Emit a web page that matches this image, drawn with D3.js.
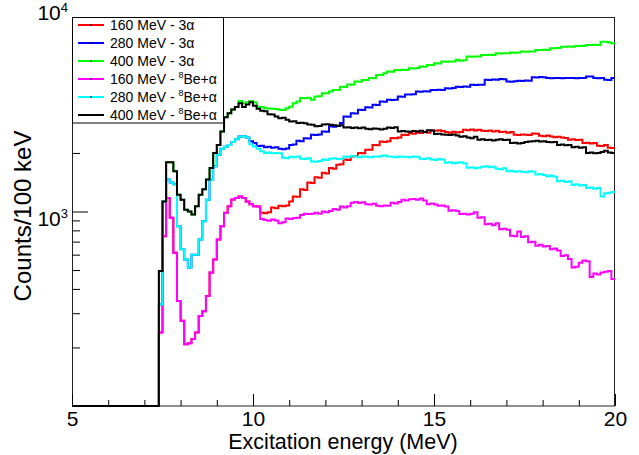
<!DOCTYPE html>
<html><head><meta charset="utf-8">
<script src="https://cdn.jsdelivr.net/npm/d3@7"></script>
<style>body{margin:0;background:#fff}svg{display:block}text{font-family:"Liberation Sans",Arial,sans-serif;fill:#000}</style>
</head><body><svg id="c" width="639" height="455"></svg>
<script>
// Histogram bins: 100 keV wide, first non-empty bin starts at 7.4 MeV (bins below are empty)
const firstEdge = 7.4;
const binWidth = 0.1;
const xTicksMajor = [5, 10, 15, 20];
const xTicksMinor = [6, 7, 8, 9, 11, 12, 13, 14, 16, 17, 18, 19];
const yTicksMajor = [1000, 10000];
const yTicksMinor = [200, 300, 400, 500, 600, 700, 800, 900, 2000, 3000, 4000, 5000, 6000, 7000, 8000, 9000];

const red160_3a = [239,746,1175,929,614,347,274,208,210,221,239,290,307,368,485,567,718,841,985,1065,1153,1175,1195,1175,1125,1090,1065,1060,
 985,980,990,1050,1040,1070,1065,1075,1125,1195,1190,1300,1290,1410,1400,1500,1490,1580,1570,1675,1660,1740,1750,1850,1840,1920,1930,2000,1990,2075,2080,2200,2190,2290,2280,2300,2390,2380,2400,2480,2470,2525,2510,2550,2530,2560,2540,2610,2600,2620,2590,2560,2540,2570,2550,2560,2630,2620,2640,2610,2630,2600,2590,2610,2580,2600,2560,2570,2540,2560,2480,2470,2490,2480,2470,2520,2510,2450,2440,2460,2430,2410,2420,2400,2390,2340,2350,2330,2340,2250,2260,2240,2250,2180,2170,2200,2130,2120];
const blue280_3a = [333,1125,1460,1410,1380,841,640,567,515,600,600,718,890,1150,1460,1710,1960,2100,2150,2200,2280,2350,2430,2440,2400,
 2300,2250,2170,2180,2140,2150,2130,2140,2100,2090,2110,2200,2210,2310,2300,2380,2370,2480,2470,2490,2580,2570,2740,2730,2750,2850,3080,3070,3200,3190,3340,3330,3440,3430,3540,3530,3680,3670,3750,3740,3760,3900,3890,4000,3990,4010,4140,4130,4150,4140,4220,4210,4230,4220,4300,4290,4310,4380,4370,4390,4380,4480,4470,4490,4480,4760,4750,4770,4760,4800,4790,4660,4650,4670,4700,4690,4710,4700,4900,4890,4910,4900,4850,4840,4860,4850,4840,4860,4850,4850,4840,4860,4850,4950,4940,4850,4840,4860,4760,4750,4850];
const green400_3a = [494,1125,1790,1790,1610,1220,1150,1020,1000,965,1065,1220,1300,1460,1675,2000,2200,2580,3050,3200,3350,3450,
 3700,3600,3650,3700,3650,3460,3450,3400,3390,3380,3370,3340,3330,3400,3460,3600,3680,3830,3820,3840,3760,3900,3910,4060,4050,4140,4220,4210,4380,4370,4500,4490,4660,4650,4750,4740,4850,4840,5040,5030,5140,5240,5230,5340,5330,5350,5340,5450,5440,5460,5560,5550,5670,5660,5780,5770,5900,5890,5910,5900,6020,5950,6000,6260,6250,6270,6260,6380,6370,6390,6380,6510,6500,6520,6510,6560,6550,6570,6640,6630,6650,6640,6770,6760,6780,6770,6910,6900,6920,7040,7030,7050,7040,7100,7090,7110,7180,7170,7190,7180,7470,7460,7400,7330];
const magenta160_8Be = [239,746,1175,929,614,347,274,208,210,221,239,290,307,368,485,567,718,841,985,1065,1153,1175,1195,1175,1125,1090,1065,1060,
 915,905,895,910,900,870,880,920,915,925,930,960,975,970,975,985,975,1000,990,1005,1030,1020,1060,1050,1065,1110,1120,1105,1115,1090,1085,1095,1070,1065,1075,1070,1110,1100,1120,1150,1140,1155,1160,1150,1165,1140,1090,1100,1085,1070,1075,1060,1010,1015,1005,970,975,965,975,990,930,935,860,865,850,870,810,815,805,750,745,790,740,745,695,700,667,675,660,665,640,645,630,590,595,570,515,520,545,560,555,460,480,475,485,490,495,450];
const cyan280_8Be = [333,1125,1460,1410,1380,841,640,567,515,600,600,718,890,1150,1460,1710,1960,2100,2150,2200,2280,2350,2430,2440,2400,
 2220,2160,2100,2040,2000,2010,1990,2000,1990,1890,1880,1910,1900,1920,1870,1860,1880,1810,1800,1820,1850,1840,1870,1880,1860,1870,1920,1910,1930,1920,1900,1920,1910,1900,1920,1910,1930,1940,1920,1910,1900,1920,1910,1910,1900,1920,1910,1870,1860,1880,1850,1840,1860,1850,1780,1790,1770,1780,1790,1770,1680,1690,1670,1680,1700,1710,1690,1700,1660,1650,1670,1610,1620,1600,1610,1600,1590,1610,1600,1550,1560,1540,1520,1530,1510,1430,1440,1420,1430,1370,1380,1360,1370,1320,1330,1310,1320,1195,1240,1250,1260];
const black400_8Be = [494,1125,1790,1790,1610,1220,1150,1020,1000,965,1065,1220,1300,1460,1675,2000,2200,2580,3050,3200,3350,3450,
 3600,3450,3550,3650,3500,3380,3300,3280,3160,3150,3080,3020,3030,2960,2900,2910,2850,2860,2840,2800,2790,2740,2750,2800,2810,2790,2780,2760,2780,2700,2710,2690,2700,2680,2700,2660,2650,2670,2660,2640,2660,2700,2690,2710,2580,2590,2580,2570,2590,2580,2600,2560,2620,2610,2500,2510,2490,2480,2470,2490,2460,2420,2440,2400,2380,2420,2340,2350,2330,2340,2320,2340,2350,2330,2340,2250,2260,2240,2250,2280,2290,2300,2310,2290,2300,2280,2270,2280,2200,2210,2190,2200,2140,2150,2130,2140,2000,2010,1990,2000,2020,2050,2010,2000];

const seriesNames = ["160 MeV - 3α","280 MeV - 3α","400 MeV - 3α","160 MeV - 8Be+α","280 MeV - 8Be+α","400 MeV - 8Be+α"];
const seriesColors = ["#ff0000","#0000ff","#00ff00","#ff00ff","#00ffff","#000000"];
const seriesData = [red160_3a, blue280_3a, green400_3a, magenta160_8Be, cyan280_8Be, black400_8Be];

const xTitle = "Excitation energy (MeV)";
const yTitle = "Counts/100 keV";

const svg = d3.select("#c");
const x = d3.scaleLinear().domain([5, 20]).range([72, 615]);
const y = d3.scaleLog().domain([100, 10000]).range([406, 17]);
const F = '"Liberation Sans",Arial,sans-serif';

// frame
svg.append("rect").attr("x", 72.5).attr("y", 17.5).attr("width", 542).attr("height", 388.5)
  .attr("fill", "none").attr("stroke", "#222").attr("stroke-width", 1);

// x ticks (inside)
const gx = svg.append("g").attr("transform", "translate(0,406)");
gx.call(d3.axisBottom(x).tickValues(xTicksMajor).tickSize(-12).tickPadding(5).tickFormat(d3.format("d")));
gx.select(".domain").remove();
gx.selectAll("text").style("font-size", "21px").style("font-family", F);
gx.selectAll("line").attr("stroke", "#000");
const gxm = svg.append("g").attr("transform", "translate(0,406)");
gxm.call(d3.axisBottom(x).tickValues(xTicksMinor).tickSize(-6).tickFormat(""));
gxm.select(".domain").remove();

// y ticks (inside)
const gy = svg.append("g").attr("transform", "translate(72,0)");
gy.call(d3.axisLeft(y).tickValues(yTicksMajor).tickSize(-16).tickFormat(""));
gy.select(".domain").remove();
const gym = svg.append("g").attr("transform", "translate(72,0)");
gym.call(d3.axisLeft(y).tickValues(yTicksMinor).tickSize(-8).tickFormat(""));
gym.select(".domain").remove();

// y labels 10^n
const yLabelOffsets = {1000: 14, 10000: 3};
yTicksMajor.forEach(v => {
  const t = svg.append("text").attr("x", 68).attr("y", y(v) + yLabelOffsets[v]).attr("text-anchor", "end")
    .style("font-size", "21px");
  t.append("tspan").text("10");
  t.append("tspan").attr("dy", -8).style("font-size", "13px").text(String(Math.round(Math.log10(v))));
});

// histograms
const line = d3.line().curve(d3.curveStepAfter)
  .x(d => x(d[0])).y(d => d[1] > 0 ? y(d[1]) : y(100));
seriesData.forEach((vals, k) => {
  const pts = [[5, 0]];
  vals.forEach((v, i) => pts.push([(firstEdge * 10 + i) / 10, v]));
  pts.push([(firstEdge * 10 + vals.length) * binWidth, vals[vals.length - 1]]);
  svg.append("path").attr("d", line(pts)).attr("fill", "none")
    .attr("stroke", seriesColors[k]).attr("stroke-width", 2);
});

// titles
svg.append("text").attr("x", 343).attr("y", 449).attr("text-anchor", "middle").style("font-size", "21.5px").text(xTitle);
svg.append("text").attr("transform", "translate(31,216) rotate(-90)").attr("text-anchor", "middle").style("font-size", "24px").text(yTitle);

// legend
const lg = svg.append("g");
lg.append("rect").attr("x", 72.5).attr("y", 17.5).attr("width", 151).attr("height", 105.5)
  .attr("fill", "#fff").attr("stroke", "#000").attr("stroke-width", 1);
seriesNames.forEach((name, k) => {
  const yy = 25 + k * 18;
  lg.append("line").attr("x1", 78).attr("x2", 104).attr("y1", yy).attr("y2", yy)
    .attr("stroke", seriesColors[k]).attr("stroke-width", 2);
  lg.append("rect").attr("x", 90.5).attr("y", yy - 1).attr("width", 1).attr("height", 2).attr("fill", "#000");
  const t = lg.append("text").attr("x", 110).attr("y", yy + 5).style("font-size", "14px");
  const m = name.match(/^(.*- )8(Be\+α)$/);
  if (m) {
    t.append("tspan").text(m[1]);
    t.append("tspan").attr("dy", -6).style("font-size", "9px").text("8");
    t.append("tspan").attr("dy", 6).text(m[2]);
  } else {
    t.text(name);
  }
});
</script></body></html>
